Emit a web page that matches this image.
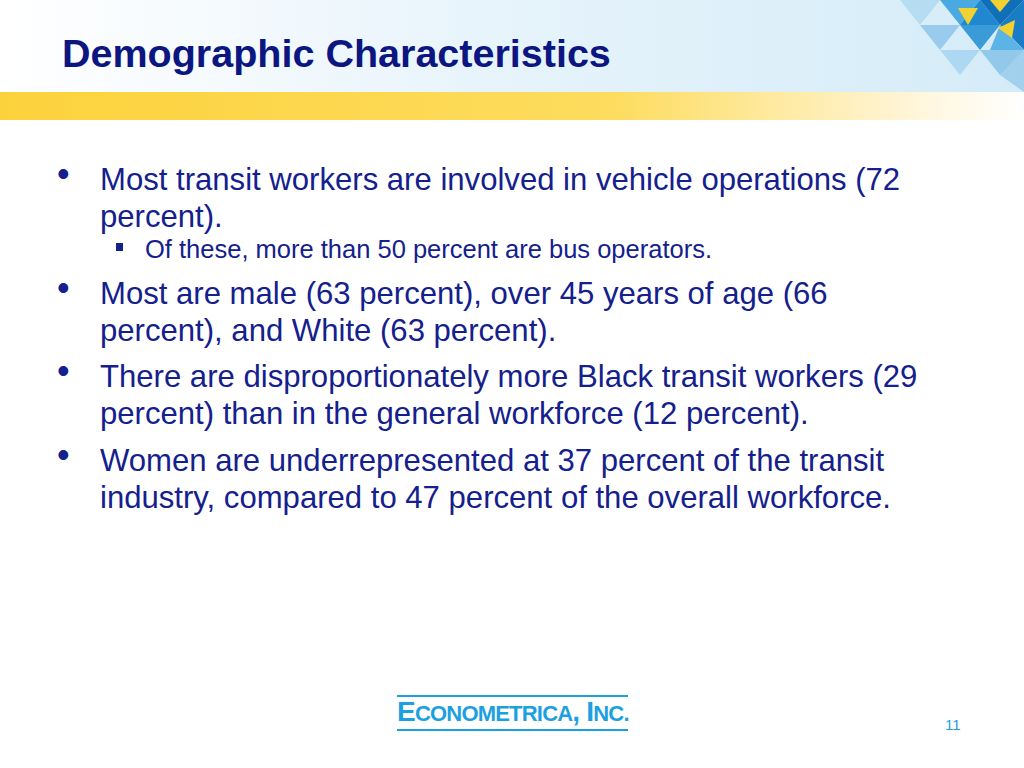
<!DOCTYPE html>
<html lang="en">
<head>
<meta charset="UTF-8">
<title>Demographic Characteristics</title>
<script src="https://cdn.jsdelivr.net/npm/chart.js"></script>
<style>
  body { margin: 0; width: 1024px; height: 768px; overflow: hidden; background: #fff; font-family: "Liberation Sans", Arial, sans-serif; position: relative; }
  .band { position: absolute; left: 0; top: 0; width: 1024px; height: 92px; background: linear-gradient(90deg, #ffffff 0%, #e6f3fb 50%, #d4ecf8 100%); }
  .yellow { position: absolute; left: 0; top: 92px; width: 1024px; height: 28px; background: linear-gradient(90deg, #fcd23c 0%, #fddc5e 60%, #fff6dc 90%, #ffffff 100%); }
  #deco { position: absolute; left: 840px; top: 0; }
  h1 { position: absolute; left: 62px; top: 31px; margin: 0; font-size: 39.5px; font-weight: bold; color: #0c1680; }
  .item { position: absolute; left: 100px; font-size: 31.1px; line-height: 37px; color: #14208c; white-space: nowrap; }
  .dot { position: absolute; left: -43px; top: -6px; font-size: 36px; }
  .sub { position: absolute; left: 145px; font-size: 25.5px; color: #14208c; white-space: nowrap; }
  .sq { position: absolute; left: -29px; top: 8px; width: 7px; height: 8px; background: #14208c; }
  .logo { position: absolute; left: 397px; top: 695px; width: 231px; border-top: 2px solid #1da0e0; border-bottom: 2px solid #1da0e0; color: #1da0e0; font-weight: bold; font-size: 28px; text-align: center; line-height: 30px; letter-spacing: -0.8px; white-space: nowrap; }
  .page { position: absolute; left: 945px; top: 716px; font-size: 15px; color: #1da0e0; }
</style>
</head>
<body>
<div class="band"></div>
<div class="yellow"></div>
<canvas id="deco" width="184" height="92"></canvas>
<h1 id="title"></h1>
<div id="content"></div>
<div class="logo">E<span style="font-size:22px">CONOMETRICA</span>, I<span style="font-size:22px">NC.</span></div>
<div class="page" id="page"></div>
<script>
const title = 'Demographic Characteristics';
const bulletLines = [
  ['Most transit workers are involved in vehicle operations (72', 'percent).'],
  ['Most are male (63 percent), over 45 years of age (66', 'percent), and White (63 percent).'],
  ['There are disproportionately more Black transit workers (29', 'percent) than in the general workforce (12 percent).'],
  ['Women are underrepresented at 37 percent of the transit', 'industry, compared to 47 percent of the overall workforce.']
];
const subBullet = 'Of these, more than 50 percent are bus operators.';
const bulletTops = [161, 275, 358, 442];
const pageNumber = '11';

document.getElementById('title').textContent = title;
document.getElementById('page').textContent = pageNumber;
const content = document.getElementById('content');
bulletLines.forEach((lines, i) => {
  const d = document.createElement('div');
  d.className = 'item';
  d.style.top = bulletTops[i] + 'px';
  d.innerHTML = '<span class="dot">•</span>' + lines.join('<br>');
  content.appendChild(d);
});
const s = document.createElement('div');
s.className = 'sub';
s.style.top = '235px';
s.innerHTML = '<span class="sq"></span>' + subBullet;
content.appendChild(s);

// triangle decoration in the top-right corner
const ctx = document.getElementById('deco').getContext('2d');
const tris = [
  [[60,0],[100,0],[80,25],'rgba(120,190,230,0.35)'],
  [[100,0],[140,0],[120,25],'#49a9e0'],
  [[80,25],[120,25],[100,50],'rgba(90,170,225,0.5)'],
  [[120,25],[140,0],[160,25],'#1f88cf'],
  [[120,25],[160,25],[140,50],'#3b9bd8'],
  [[118,8],[138,8],[128,25],'#f2d232'],
  [[140,0],[184,0],[160,25],'#0f6fb8'],
  [[160,25],[184,0],[184,50],'#1a7cc4'],
  [[160,25],[184,50],[150,50],'#5bb3e6'],
  [[158,28],[175,20],[172,38],'#f2d232'],
  [[100,50],[140,50],[120,75],'rgba(110,185,230,0.4)'],
  [[140,50],[184,50],[160,75],'rgba(80,165,220,0.5)'],
  [[160,75],[184,50],[184,92],'rgba(100,175,225,0.45)'],
  [[150,0],[170,0],[160,12],'#f2d232']
];
tris.forEach(t => {
  ctx.fillStyle = t[3];
  ctx.beginPath();
  ctx.moveTo(t[0][0], t[0][1]); ctx.lineTo(t[1][0], t[1][1]); ctx.lineTo(t[2][0], t[2][1]);
  ctx.closePath(); ctx.fill();
});
</script>
</body>
</html>
